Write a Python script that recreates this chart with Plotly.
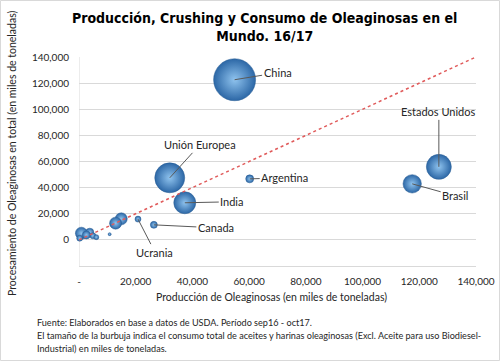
import plotly.graph_objects as go

# ---- data (thousand tonnes) ----
names = ["China", "Unión Europea", "India", "Estados Unidos", "Brasil", "Argentina",
         "Canada", "Ucrania", "", "", "", "", "", "", "", "", ""]
production = [54870, 32000, 37300, 126900, 117500, 60200, 26400, 20800,
              14900, 12900, 10800, 850, 3800, 4900, 6100, 250, 2600]
crushing = [122600, 47500, 28400, 55900, 42900, 46700, 11500, 15900,
            16100, 12800, 4400, 5100, 5900, 3100, 2100, 1300, 3800]
consumption = [110000, 56000, 30100, 38900, 21100, 4000, 3050, 2240,
               9000, 9000, 560, 9000, 4000, 2240, 1560, 2240, 4000]

ref_x = [0, 140000]
ref_y = [0, 140000]

x_tickvals = [0, 20000, 40000, 60000, 80000, 100000, 120000, 140000]
x_ticktext = ["-", "20,000", "40,000", "60,000", "80,000", "100,000", "120,000", "140,000"]
y_tickvals = [0, 20000, 40000, 60000, 80000, 100000, 120000, 140000]
y_ticktext = ["0", "20,000", "40,000", "60,000", "80,000", "100,000", "120,000", "140,000"]

footnote_lines = [
    "Fuente: Elaborados en base a datos de USDA. Período sep16 - oct17.",
    "El tamaño de la burbuja indica el consumo total de aceites y harinas oleaginosas (Excl. Aceite para uso Biodiesel-",
    "Industrial) en miles de toneladas.",
]

# label placement (pixel offsets from bubble centre)
label_offsets = {
    "China": (43, -7),
    "Unión Europea": (30, -33),
    "India": (47, -1),
    "Estados Unidos": (0, -55),
    "Brasil": (43, 12),
    "Argentina": (35, -1),
    "Canada": (62, 3),
    "Ucrania": (17, 33),
}

FONT = "Lato"
TITLE_FONT = "DejaVu Sans Condensed, Liberation Sans Narrow, Arial Narrow, sans-serif"
W, H = 501, 363
ML, MR, MT, MB = 79, 25, 57, 97
max_diam = 42
sizeref = 2 * max(consumption) / (max_diam ** 2)

fig = go.Figure()
fig.add_trace(go.Scatter(
    x=production, y=crushing, mode="markers",
    marker=dict(size=consumption, sizemode="area", sizeref=sizeref, opacity=1,
                color="#2c67a6",
                gradient=dict(type="radial", color="#8fc3ee"),
                line=dict(width=0.5, color="#2a5f95")),
    cliponaxis=False, hoverinfo="skip", showlegend=False))
fig.add_trace(go.Scatter(
    x=ref_x, y=ref_y, mode="lines",
    line=dict(color="#e05a5a", width=1.5, dash="dot"),
    hoverinfo="skip", showlegend=False))

annotations = []
for n, xv, yv in zip(names, production, crushing):
    if n in label_offsets:
        ax, ay = label_offsets[n]
        annotations.append(dict(
            x=xv, y=yv, xref="x", yref="y", text=n, showarrow=True,
            arrowhead=0, arrowwidth=1, arrowcolor="#595959", standoff=0,
            ax=ax, ay=ay, font=dict(family=FONT, size=11, color="#262626")))

pw = W - ML - MR
ph = H - MT - MB
def px2paper_x(px):
    return (px - ML) / pw
def px2paper_y(py):
    return (H - MB - py) / ph

annotations.append(dict(
    text="<b>Producción, Crushing y Consumo de Oleaginosas en el<br>Mundo. 16/17</b>",
    x=px2paper_x(264), y=px2paper_y(27), xref="paper", yref="paper",
    showarrow=False, xanchor="center", yanchor="middle", align="center",
    font=dict(family=TITLE_FONT, size=14, color="#000000")))
annotations.append(dict(
    text="Procesamiento de Oleaginosas en total (en miles de toneladas)",
    x=px2paper_x(12), y=px2paper_y(154), xref="paper", yref="paper",
    showarrow=False, textangle=-90, xanchor="center", yanchor="middle",
    font=dict(family=FONT, size=10.5, color="#262626")))
annotations.append(dict(
    text="Producción de Oleaginosas (en miles de toneladas)",
    x=px2paper_x(271), y=px2paper_y(297), xref="paper", yref="paper",
    showarrow=False, xanchor="center", yanchor="middle",
    font=dict(family=FONT, size=10.5, color="#262626")))
for i, line in enumerate(footnote_lines):
    annotations.append(dict(
        text=line, x=px2paper_x(35), y=px2paper_y(322 + 13 * i),
        xref="paper", yref="paper", showarrow=False,
        xanchor="left", yanchor="middle", align="left",
        font=dict(family=FONT, size=9.1, color="#262626")))

fig.update_layout(
    width=W, height=H,
    margin=dict(l=ML, r=MR, t=MT, b=MB, autoexpand=False),
    paper_bgcolor="white", plot_bgcolor="white",
    xaxis=dict(range=[0, 140000], tickvals=x_tickvals, ticktext=x_ticktext,
               showgrid=False, zeroline=False, showline=True, linecolor="#d9d9d9",
               linewidth=1, ticks="", ticklabelstandoff=6, automargin=False,
               tickfont=dict(family=FONT, size=10, color="#262626")),
    yaxis=dict(range=[-20000, 140000], tickvals=y_tickvals, ticktext=y_ticktext,
               showgrid=True, gridcolor="#d9d9d9", gridwidth=1, zeroline=False,
               showline=False, ticks="", ticklabelstandoff=9, automargin=False,
               tickfont=dict(family=FONT, size=10, color="#262626")),
    annotations=annotations,
    shapes=[dict(type="line", xref="x", yref="paper", x0=0, x1=0, y0=0, y1=1,
                 line=dict(color="#d9d9d9", width=1), layer="below"),
            dict(type="rect", xref="paper", yref="paper",
                 x0=px2paper_x(0.5), x1=px2paper_x(W - 1.5),
                 y0=px2paper_y(H - 2.5), y1=px2paper_y(0.5),
                 line=dict(color="#d9d9d9", width=1))],
)

fig.write_html("out.html", config={"displayModeBar": False},
               post_script="document.body.style.margin='0';document.body.style.padding='0';")
